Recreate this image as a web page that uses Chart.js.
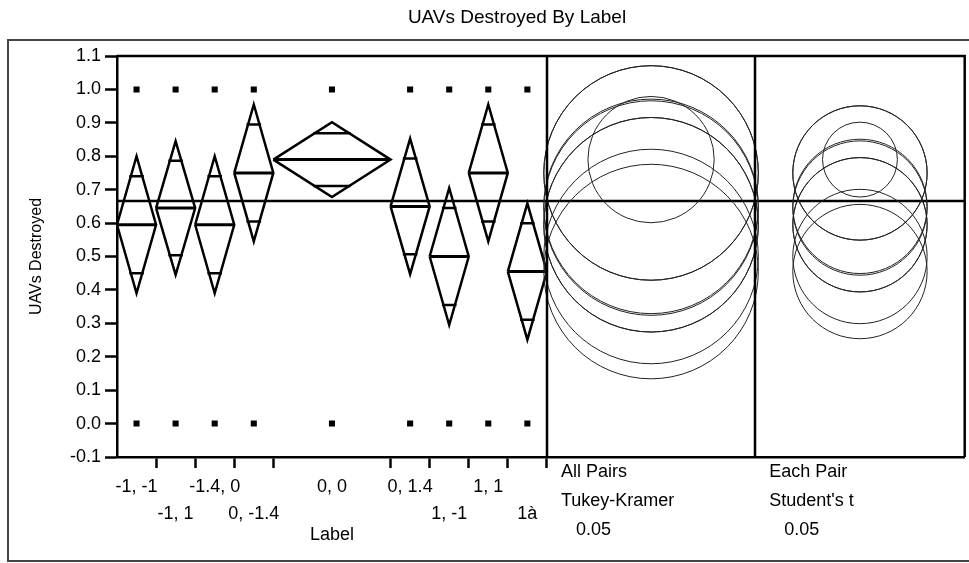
<!DOCTYPE html>
<html>
<head>
<meta charset="utf-8">
<script src="https://cdn.jsdelivr.net/npm/chart.js@4.4.0/dist/chart.umd.min.js"></script>
<style>
  html, body { margin: 0; padding: 0; background: #fff; }
  canvas { display: block; }
</style>
</head>
<body>
<canvas id="myChart" width="969" height="563"></canvas>
<script>
"use strict";

// groups along the x axis (width of each diamond ~ group size)
var labels = ["-1, -1", "-1, 1", "-1.4, 0", "0, -1.4", "0, 0", "0, 1.4", "1, -1", "1, 1", "1\u00e0"];
var groupWeights = [1, 1, 1, 1, 3, 1, 1, 1, 1];
var means = [0.595, 0.645, 0.595, 0.75, 0.79, 0.65, 0.5, 0.75, 0.455];
var ciHalf = [0.205, 0.2, 0.205, 0.205, 0.112, 0.203, 0.205, 0.205, 0.204];
var tukeyRadius = [0.321, 0.321, 0.321, 0.321, 0.189, 0.321, 0.321, 0.321, 0.321];
var studentRadius = [0.201, 0.201, 0.201, 0.201, 0.112, 0.201, 0.201, 0.201, 0.201];
var observed = [0, 1];
var grandMean = 0.666;
var yTicks = [-0.1, 0, 0.1, 0.2, 0.3, 0.4, 0.5, 0.6, 0.7, 0.8, 0.9, 1.0, 1.1];
var compareTests = [
    ["All Pairs", "Tukey-Kramer", "0.05"],
    ["Each Pair", "Student's t", "0.05"]
];

var FONT = '"Liberation Sans", Arial, sans-serif';
Chart.defaults.font.family = FONT;
Chart.defaults.color = '#000';

var starts = [], centers = [];
var acc = 0;
groupWeights.forEach(function (w) {
    starts.push(acc);
    centers.push(acc + w / 2);
    acc += w;
});
var mainWidth = acc;
var panelWidths = [5.33, 5.36];
var xMax = mainWidth + panelWidths[0] + panelWidths[1];

// diamonds, mean lines and overlap marks
var diamondPts = [], meanPts = [], markPts = [];
means.forEach(function (m, i) {
    var l = starts[i], r = starts[i] + groupWeights[i], c = centers[i], h = ciHalf[i];
    diamondPts.push({x: l, y: m}, {x: c, y: m + h}, {x: r, y: m}, {x: c, y: m - h}, {x: l, y: m}, {x: r, y: null});
    meanPts.push({x: l, y: m}, {x: r, y: m}, {x: r, y: null});
    var half = (1 - Math.SQRT1_2) * groupWeights[i] / 2 + 0.04;
    [1, -1].forEach(function (k) {
        var y = m + k * h * Math.SQRT1_2;
        markPts.push({x: c - half, y: y}, {x: c + half, y: y}, {x: c, y: null});
    });
});

var obsPts = [];
centers.forEach(function (c) {
    observed.forEach(function (v) { obsPts.push({x: c, y: v}); });
});

// staggered label rows
var xTicks = [];
var row = 1;
centers.forEach(function (c, i) {
    row = (i > 0 && groupWeights[i - 1] > 1) ? 0 : 1 - row;
    xTicks.push({value: c, lbl: row === 0 ? [labels[i], ''] : ['', labels[i]], edge: false});
});
for (var b = 1; b <= groupWeights.length; b++) {
    var edgeVal = starts[b] !== undefined ? starts[b] : mainWidth;
    xTicks.push({value: edgeVal, lbl: '', edge: true});
}
xTicks.sort(function (a, b) { return a.value - b.value; });

var jmpExtras = {
    id: 'jmpExtras',
    beforeDraw: function (chart) {
        var ctx = chart.ctx;
        ctx.save();
        ctx.strokeStyle = '#444';
        ctx.lineWidth = 2;
        ctx.strokeRect(8, 40, 1000, 521);
        ctx.restore();
    },
    afterDatasetsDraw: function (chart) {
        var ctx = chart.ctx, area = chart.chartArea;
        var xs = chart.scales.x, ys = chart.scales.y;
        ctx.save();

        // comparison circles
        ctx.save();
        ctx.beginPath();
        ctx.rect(area.left, area.top, area.right - area.left, area.bottom - area.top);
        ctx.clip();
        ctx.strokeStyle = '#222';
        ctx.lineWidth = 1;
        [tukeyRadius, studentRadius].forEach(function (radii, p) {
            var x0 = mainWidth + (p === 0 ? 0 : panelWidths[0]);
            var cx = xs.getPixelForValue(x0 + panelWidths[p] / 2);
            means.forEach(function (m, i) {
                var cy = ys.getPixelForValue(m);
                var r = Math.abs(ys.getPixelForValue(m + radii[i]) - cy);
                ctx.beginPath();
                ctx.arc(cx, cy, r, 0, Math.PI * 2);
                ctx.stroke();
            });
        });
        ctx.restore();

        // frame
        ctx.strokeStyle = '#000';
        ctx.lineWidth = 2.5;
        ctx.beginPath();
        ctx.moveTo(area.left, area.top);
        ctx.lineTo(area.right, area.top);
        ctx.lineTo(area.right, area.bottom);
        [mainWidth, mainWidth + panelWidths[0]].forEach(function (v) {
            var px = Math.round(xs.getPixelForValue(v));
            ctx.moveTo(px, area.top);
            ctx.lineTo(px, area.bottom);
        });
        ctx.stroke();

        // texts
        ctx.fillStyle = '#000';
        ctx.textBaseline = 'middle';
        ctx.textAlign = 'center';
        ctx.font = '19px ' + FONT;
        ctx.fillText('UAVs Destroyed By Label', 517, 18);
        ctx.font = '18px ' + FONT;
        ctx.fillText('Label', xs.getPixelForValue(mainWidth / 2), area.bottom + 78);
        ctx.textAlign = 'left';
        compareTests.forEach(function (lines, p) {
            var x0 = xs.getPixelForValue(mainWidth + (p === 0 ? 0 : panelWidths[0])) + 14;
            lines.forEach(function (t, k) {
                ctx.fillText(t, x0 + (k === 2 ? 15 : 0), area.bottom + 15 + k * 29);
            });
        });
        ctx.restore();
    }
};

var line = {showLine: true, pointRadius: 0, borderColor: '#000', fill: false, tension: 0, spanGaps: false};

var ctx = document.getElementById('myChart').getContext('2d');

var myChart = new Chart(ctx, {
    type: 'scatter',
    data: {
        datasets: [
            Object.assign({data: diamondPts, borderWidth: 2.5, borderJoinStyle: 'miter'}, line),
            Object.assign({data: meanPts, borderWidth: 3}, line),
            Object.assign({data: markPts, borderWidth: 2.5}, line),
            Object.assign({data: [{x: 0, y: grandMean}, {x: xMax, y: grandMean}], borderWidth: 2.5}, line),
            {
                data: obsPts,
                pointStyle: 'rect',
                pointRadius: 4.3,
                pointBorderWidth: 0,
                backgroundColor: '#000',
                borderColor: '#000'
            }
        ]
    },
    options: {
        responsive: false,
        animation: false,
        layout: {padding: {left: 0, right: 2, top: 56, bottom: 0}},
        plugins: {
            legend: {display: false},
            tooltip: {enabled: false},
            title: {display: false}
        },
        scales: {
            x: {
                type: 'linear',
                min: 0,
                max: xMax,
                afterBuildTicks: function (s) { s.ticks = xTicks; },
                afterFit: function (s) { s.height = 106; },
                ticks: {
                    autoSkip: false,
                    maxRotation: 0,
                    padding: 6,
                    font: {size: 18, lineHeight: 1.5},
                    callback: function (v, i, ticks) { return ticks[i].lbl; }
                },
                grid: {
                    drawOnChartArea: false,
                    tickLength: 11,
                    tickWidth: 2.5,
                    tickColor: function (c) { return c.tick && c.tick.edge ? '#000' : 'rgba(0,0,0,0)'; }
                },
                border: {color: '#000', width: 2.5}
            },
            y: {
                type: 'linear',
                min: -0.1,
                max: 1.1,
                afterBuildTicks: function (s) {
                    s.ticks = yTicks.map(function (v) { return {value: v}; });
                },
                afterFit: function (s) { s.width = 117; },
                ticks: {
                    padding: 4,
                    font: {size: 18},
                    callback: function (v) { return Number(v).toFixed(1); }
                },
                grid: {drawOnChartArea: false, tickLength: 12, tickWidth: 2.5, tickColor: '#000'},
                border: {color: '#000', width: 2.5},
                title: {display: true, text: 'UAVs Destroyed', font: {size: 16}, padding: {top: 27}}
            }
        }
    },
    plugins: [jmpExtras]
});
</script>
</body>
</html>
